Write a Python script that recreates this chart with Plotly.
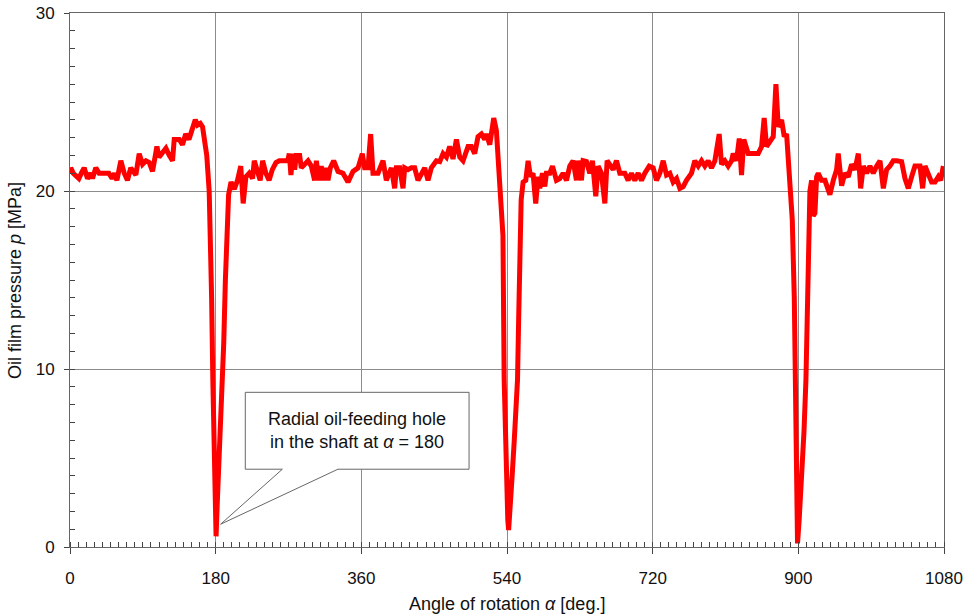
import plotly.graph_objects as go

# ---- data (angle in deg, pressure in MPa) ----
angle_a = [0, 1, 4, 7, 11, 14, 17.5, 21.6, 25.8, 27.8, 31.9, 36, 48, 52, 55, 58, 62.8, 67, 71, 75,
           79, 81.4, 85.5, 89.6, 93.8, 97.9, 102, 107.4, 110, 114.4, 118.5, 122.6, 126.7, 128.8, 135,
           139, 143, 147, 151.5, 154.8, 157.6, 161, 163.8, 165.9, 169, 172, 173.5, 175, 176.5, 178,
           179.5, 180.5]
press_a = [21.0, 21.3, 21.0, 20.9, 20.7, 21.0, 21.3, 20.7, 21.0, 20.7, 21.3, 21.0, 21.0, 20.7, 21.0, 20.6, 21.7, 21.0, 20.6, 21.3,
           21.1, 20.9, 22.1, 21.5, 21.7, 21.6, 21.1, 22.5, 21.9, 22.2, 22.4, 22.0, 21.7, 22.9, 22.9,
           22.6, 23.2, 22.9, 23.6, 24.0, 23.7, 23.8, 23.6, 23.1, 22.0, 20.0, 18.0, 14.0, 9.4, 5.0,
           1.5, 0.6]

angle_b = [182, 184, 186, 188, 190, 192, 194, 196, 199, 203, 207, 211, 214, 217.4, 221.5, 225.6, 227.7,
           231.8, 235, 238, 242, 246, 250, 254.5, 258.6, 264, 269, 271, 273, 275.5, 277.6, 279.6,
           283.8, 285.8, 289.9, 294.1, 298.2, 302.3, 304.4, 307.7, 310.5, 312.6, 315.9, 318.8, 321.7,
           325.8, 331.2, 337.3, 343.5, 349.7, 355.9, 361.2]
press_b = [2.5, 4.5, 6.0, 8.5, 11.5, 15.0, 18.2, 19.8, 20.5, 20.1, 20.6, 21.4, 19.3, 20.8, 21.0, 20.7, 21.7,
           21.0, 20.6, 21.7, 21.0, 20.6, 21.2, 21.6, 21.7, 21.7, 21.7, 22.1, 20.9, 22.1, 21.2, 22.0,
           22.0, 21.3, 21.5, 21.7, 21.4, 20.6, 21.7, 20.6, 21.4, 20.6, 21.3, 20.6, 21.3,
           21.7, 21.1, 21.0, 20.5, 21.1, 21.3, 22.1]

angle_c = [364.1, 368.2, 371.5, 374.4, 380.6, 386.8, 390.9, 395, 397.1, 401.2, 403.3, 407.4, 411.5,
           413.6, 417.7, 421.8, 425.9, 430, 434.2, 438.3, 442.4, 446.5, 452.7, 456.9, 461, 465.1,
           469.2, 473.3, 477.5, 481.6, 485.7, 491.9, 496, 500.1, 504.2, 508.4, 512.5, 514.6, 518.7,
           520.7, 523.6, 526.9, 529, 531, 533, 535, 536.5, 538, 539.5, 541, 542]
press_c = [21.3, 21.3, 23.2, 21.0, 21.0, 21.7, 20.6, 21.0, 21.3, 20.15, 21.3, 21.3, 20.15,
           21.3, 21.2, 21.3, 21.3, 20.6, 21.0, 21.3, 20.6, 21.3, 21.7, 21.65, 22.1, 21.9,
           22.5, 21.8, 22.9, 21.9, 21.7, 22.5, 22.5, 22.1, 23.05, 23.2, 22.9, 23.2, 22.6,
           23.2, 24.1, 23.4, 22.1, 20.0, 19.0, 17.5, 9.4, 6.0, 3.5, 1.5, 0.95]

angle_d = [544, 546.5, 549, 553, 554.5, 555.8, 557.5, 559.9, 563.2, 566.1, 569, 572.2, 575.5, 578.4,
           580.5, 583.8, 586.7, 588.7, 592.9, 596.2, 601.1, 605.2, 609.3, 613.5, 617.6, 621.7, 625.8,
           627.9, 632, 634.1, 638.2, 642.3, 645.6, 649.7, 652.6, 656.7, 660.9, 663.7, 667, 671.2,
           675.3, 679.4, 685.6, 689.7, 693.8, 697.9, 702.1, 706.2, 710.3, 715.7]
press_d = [2.0, 4.1, 6.0, 9.4, 13.0, 18.4, 19.5, 20.5, 20.6, 21.7, 20.8, 21.0, 19.3, 20.8,
           20.15, 21.0, 20.25, 21.0, 21.0, 21.4, 20.6, 20.7, 21.0, 20.6, 21.4, 21.7, 20.6,
           21.7, 20.6, 21.7, 21.65, 21.0, 21.7, 19.7, 21.4, 21.0, 19.3, 21.7, 21.5, 21.2,
           21.7, 21.0, 21.0, 20.6, 21.0, 20.6, 21.0, 20.6, 21.0, 21.4]

angle_e = [720.6, 724.7, 728.9, 733, 737.1, 741.2, 745.3, 749.5, 753.6, 757.7, 761.8, 768, 772.1,
           776.3, 780.4, 784.5, 788.6, 792.7, 796.9, 802.2, 805.1, 809.2, 813.3, 817.5, 819.5, 823.6,
           827, 829.8, 832.7, 838.1, 844.3, 850.4, 854.6, 857.8, 860.7, 864.9, 869, 872.3, 875.2,
           879.3, 882.6, 885.5, 888.7, 891, 892.5, 895, 896.6, 898, 899]
press_e = [21.3, 20.6, 21.0, 21.7, 20.9, 21.0, 20.5, 20.7, 20.15, 20.25, 20.6, 21.0, 21.7,
           21.4, 21.7, 21.4, 21.7, 21.3, 21.7, 23.2, 21.5, 21.7, 21.4, 21.7, 22.1, 21.7,
           22.95, 20.9, 22.9, 22.1, 22.1, 22.1, 22.5, 24.1, 22.5, 22.8, 23.05, 26.0, 23.6,
           24.0, 23.05, 23.2, 21.2, 20.0, 18.4, 14.0, 9.4, 4.0, 0.2]

angle_f = [901, 904, 907, 909.4, 912, 913.5, 914.3, 916.4, 918.4, 920.5, 922.6, 924.6, 928.7, 932.9,
           939, 943.2, 947.3, 949.3, 953.5, 957.6, 961.7, 965.8, 970, 974.1, 977, 980.3, 984.4,
           988.5, 992.6, 996.7, 1000.9, 1005, 1009.1, 1013.2, 1017.3, 1021.5, 1027.6, 1031.8,
           1035.9, 1040, 1044.1, 1050.3, 1053.6, 1056.5, 1060.6, 1064.7, 1068.9, 1073, 1075.9, 1079.2]
press_f = [1.5, 3.8, 6.5, 9.4, 14.0, 18.0, 20.0, 20.6, 18.6, 18.75, 20.8, 21.0, 20.6, 20.6,
           19.8, 20.6, 21.2, 22.1, 20.3, 21.0, 20.8, 21.5, 21.2, 22.1, 20.15, 21.4, 21.0,
           21.4, 21.0, 21.4, 21.7, 20.15, 21.2, 21.4, 21.7, 21.7, 21.65, 20.7,
           20.15, 20.8, 21.4, 21.4, 20.15, 21.4, 21.0, 20.5, 20.5, 20.8, 20.6, 21.4]

x_ticks = [0, 180, 360, 540, 720, 900, 1080]
y_ticks = [0, 10, 20, 30]

angle = angle_a + angle_b + angle_c + angle_d + angle_e + angle_f
pressure = press_a + press_b + press_c + press_d + press_e + press_f

# callout geometry (data units)
box_x0, box_x1, box_y0, box_y1 = 216.6, 493.1, 4.37, 8.69
wedge_l, wedge_r, tip_x, tip_y = 262.4, 331.1, 186.1, 1.28

FONT = "Liberation Sans, Arial, sans-serif"
GRID = "#8c8c8c"
FS = 17
FT = 18

fig = go.Figure()
# invisible companion on the overlay axis (only carries the minor y ticks)
fig.add_trace(go.Scatter(x=angle, y=pressure, mode="lines", yaxis="y2",
                         line=dict(color="rgba(0,0,0,0)", width=0), hoverinfo="skip"))
fig.add_trace(go.Scatter(x=angle, y=pressure, mode="lines",
                         line=dict(color="#ff0000", width=5), hoverinfo="x+y"))

path = (f"M {box_x0},{box_y0} L {wedge_l},{box_y0} L {tip_x},{tip_y} L {wedge_r},{box_y0} "
        f"L {box_x1},{box_y0} L {box_x1},{box_y1} L {box_x0},{box_y1} Z")
fig.add_shape(type="path", path=path, xref="x", yref="y", layer="above",
              fillcolor="white", line=dict(color="#666666", width=1))
fig.add_annotation(x=(box_x0 + box_x1) / 2, y=(box_y0 + box_y1) / 2, xref="x", yref="y",
                   text="Radial oil-feeding hole<br>in the shaft at <i>α</i> = 180",
                   showarrow=False, font=dict(family=FONT, size=FT, color="#111111"), align="center")

# axis titles as annotations for exact placement
fig.add_annotation(x=0.5, y=-0.1067, xref="paper", yref="paper", xanchor="center", yanchor="middle",
                   text="Angle of rotation <i>α</i> [deg.]", showarrow=False,
                   font=dict(family=FONT, size=FT, color="#111111"))
fig.add_annotation(x=-0.063, y=0.5, xref="paper", yref="paper", xanchor="center", yanchor="middle",
                   text="Oil film pressure <i>p</i> [MPa]", showarrow=False, textangle=-90,
                   font=dict(family=FONT, size=FT, color="#111111"))

fig.update_layout(
    width=964, height=616,
    margin=dict(l=70, r=20, t=13, b=69, autoexpand=False),
    paper_bgcolor="white", plot_bgcolor="white",
    showlegend=False,
    font=dict(family=FONT, size=FS, color="#111111"),
    yaxis2=dict(overlaying="y", side="left", range=[y_ticks[0], y_ticks[-1]], tickmode="linear",
                tick0=0, dtick=1, ticks="inside", ticklen=5, tickcolor="#444444", tickwidth=1,
                showticklabels=False, showgrid=False, zeroline=False, showline=False,
                automargin=False),
)
fig.update_xaxes(range=[x_ticks[0], x_ticks[-1]], tickmode="linear", tick0=x_ticks[0],
                 dtick=x_ticks[1] - x_ticks[0], ticks="outside", ticklen=6, tickcolor="#444",
                 showgrid=True, gridcolor=GRID, gridwidth=1, zeroline=False, automargin=False,
                 showline=True, linecolor="#666666", linewidth=1, mirror=True,
                 minor=dict(dtick=10, tick0=0, ticks="inside", ticklen=5, tickcolor="#444",
                            tickwidth=1, showgrid=False),
                 ticklabelstandoff=10)
fig.update_layout(yaxis=dict(range=[y_ticks[0], y_ticks[-1]], tickmode="linear", tick0=y_ticks[0],
                 dtick=y_ticks[1] - y_ticks[0], ticks="outside", ticklen=5, tickcolor="#444",
                 showgrid=True, gridcolor=GRID, gridwidth=1, zeroline=False, automargin=False,
                 showline=True, linecolor="#666666", linewidth=1, mirror=True,
                 ticklabelstandoff=6))

fig.write_html("out.html", config={"displayModeBar": False},
               post_script="document.body.style.margin='0';document.body.style.overflow='hidden';")
